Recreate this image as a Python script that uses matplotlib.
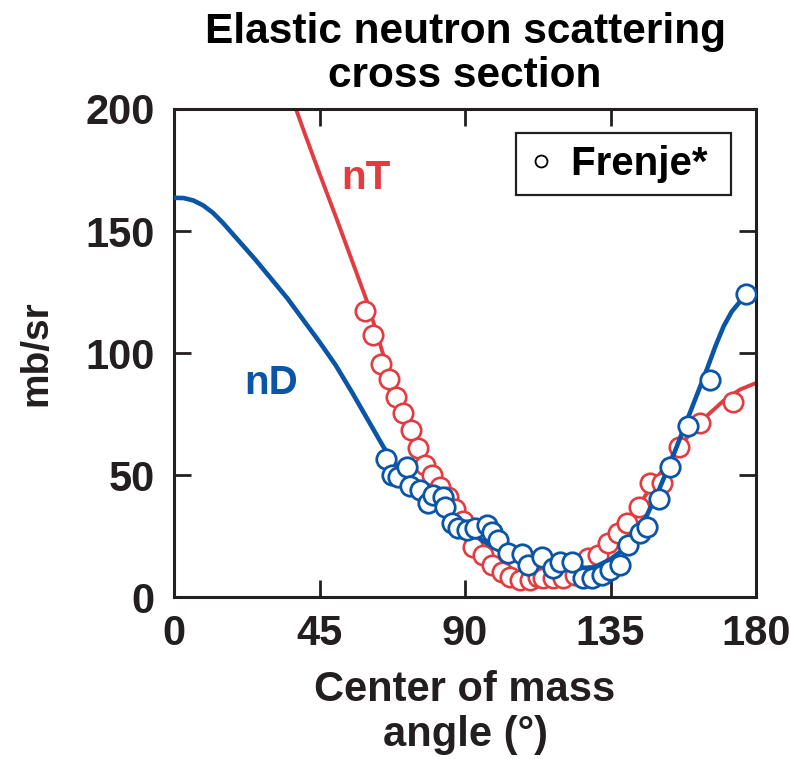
import numpy as np
import matplotlib
matplotlib.use('Agg')
import matplotlib.pyplot as plt
from matplotlib import rcParams
from matplotlib.lines import Line2D

rcParams['font.family'] = ['Liberation Sans', 'DejaVu Sans']
rcParams['font.weight'] = 'bold'

# 颜色
RED = '#E23B40'
BLUE = '#0B55A6'
INK = '#231F20'

# nT 测量点 (角度, mb/sr)
nt_angle = [59.1, 61.6, 63.9, 66.6, 68.7, 70.7, 73.2, 75.6, 77.6, 79.7, 82.3, 84.7,
            87.0, 89.5, 92.6, 95.7, 98.3, 101.4, 103.9, 107.0, 110.1, 112.5, 114.2,
            117.3, 120.4, 124.0, 128.1, 131.2, 134.3, 137.4, 140.2, 143.9, 147.3,
            150.9, 156.3, 162.7, 173.0]
nt_value = [117.3, 107.4, 95.5, 89.2, 81.8, 75.5, 68.4, 60.9, 54.1, 50.0, 45.2, 41.0,
            36.0, 31.0, 20.6, 17.2, 13.1, 10.4, 8.3, 7.0, 7.0, 8.3, 7.7,
            7.7, 7.7, 9.0, 15.9, 17.2, 22.0, 26.1, 30.2, 37.0, 46.6,
            46.6, 61.6, 71.2, 79.8]

# nD 测量点
nd_angle = [65.6, 67.3, 69.4, 72.0, 73.0, 76.1, 78.7, 80.2, 83.3, 83.8, 85.9, 87.9,
            90.5, 93.1, 96.7, 98.3, 100.3, 103.4, 107.5, 109.6, 113.7, 117.3, 119.4,
            123.0, 126.6, 129.2, 132.3, 134.9, 137.9, 140.5, 144.2, 146.2, 150.1,
            153.4, 159.0, 165.8, 177.0]
nd_value = [56.4, 50.0, 49.3, 53.4, 45.5, 43.9, 38.4, 41.8, 41.1, 37.0, 30.2, 28.2,
            27.5, 28.2, 29.5, 26.8, 23.4, 17.9, 17.5, 13.1, 16.5, 11.8, 14.5,
            14.5, 7.7, 7.7, 9.0, 11.1, 13.1, 21.3, 26.1, 28.8, 40.0,
            53.4, 70.1, 88.9, 124.2]

# 理论曲线 (读图节点)
nt_curve_angle = [37.7, 40, 45, 50, 55, 60, 65, 70, 75, 80, 85, 90, 95, 100, 105, 110,
                  115, 120, 125, 130, 135, 140, 145, 150, 155, 160, 165, 170, 175, 180]
nt_curve_value = [200, 191.5, 173.5, 156, 138, 120, 98, 79, 63, 50.5, 40.5, 29, 18, 11.5,
                  8.5, 7.0, 7.0, 8.0, 11, 15.5, 22, 30, 40, 50, 59.5, 67.5, 74.5, 80.5,
                  85, 87.7]

nd_curve_angle = [0, 3, 6, 9, 12, 15, 20, 25, 30, 35, 40, 45, 50, 55, 60, 65, 70, 75, 80,
                  85, 90, 95, 100, 105, 110, 115, 120, 125, 130, 135, 140, 145, 150,
                  155, 160, 162.5, 165, 167.5, 170, 172.5, 175, 177.5, 180]
nd_curve_value = [163.6, 163.5, 162.5, 160.5, 157.5, 153.5, 146, 138.5, 130.5, 122.5, 113.5,
                  104.5, 95, 84, 72.5, 61, 52, 45.5, 40, 34.5, 29.5, 23.5, 19.5, 16.5,
                  14, 13.2, 12.5, 11.8, 12.2, 15.5, 20.5, 30, 44, 60, 77, 85.5, 94, 103,
                  111, 117, 121, 123.5, 125]

fig = plt.figure(figsize=(7.9, 7.59), dpi=100)
ax = fig.add_axes([0.2203, 0.2134, 0.7367, 0.643])

# 先画 nT, 再画 nD (蓝色在上)
ax.plot(nt_curve_angle, nt_curve_value, color=RED, linewidth=2.8, zorder=2)
ax.plot(nt_angle, nt_value, 'o', markersize=14, markerfacecolor='white',
        markeredgecolor=RED, markeredgewidth=1.9, zorder=3)
ax.plot(nd_curve_angle, nd_curve_value, color=BLUE, linewidth=3.3, zorder=4)
ax.plot(nd_angle, nd_value, 'o', markersize=14, markerfacecolor='white',
        markeredgecolor=BLUE, markeredgewidth=2.0, zorder=5)

ax.text(59.4, 171.7, 'nT', color=RED, fontsize=29, fontweight='bold', ha='center', va='center')
ax.text(30.0, 87.7, 'nD', color=BLUE, fontsize=29, fontweight='bold', ha='center', va='center')

ax.set_xlim(0, 180)
ax.set_ylim(0, 200)
ax.set_xticks([0, 45, 90, 135, 180])
ax.set_yticks([0, 50, 100, 150, 200])
ax.tick_params(direction='in', length=12, width=2.0, labelsize=30, top=True, right=True,
               colors=INK)
ax.tick_params(axis='x', pad=12)
ax.tick_params(axis='y', pad=14)
for s in ax.spines.values():
    s.set_linewidth(2.2)
    s.set_color(INK)

ax.set_xlabel('Center of mass\nangle (°)', fontsize=30, fontweight='bold', labelpad=12,
              linespacing=1.15, color=INK)
ax.set_ylabel('mb/sr', fontsize=28, fontweight='bold', labelpad=22, color=INK)
ax.set_title('Elastic neutron scattering\ncross section', fontsize=30.5, fontweight='bold',
             pad=16, linespacing=1.12)

# 图例 (末尾空格用于右侧留白)
proxy = Line2D([], [], linestyle='none', marker='o', markersize=8.6, markerfacecolor='white',
               markeredgecolor='black', markeredgewidth=1.3)
leg = ax.legend([proxy], ['Frenje* '], loc='upper right', bbox_to_anchor=(0.957, 0.951),
                borderaxespad=0, fontsize=29, fancybox=False, framealpha=1,
                edgecolor=INK, handlelength=0.65, handletextpad=0.42, borderpad=0.3)
leg.get_frame().set_linewidth(1.6)
for t in leg.get_texts():
    t.set_fontweight('bold')

fig.savefig('out.png', dpi=100)
